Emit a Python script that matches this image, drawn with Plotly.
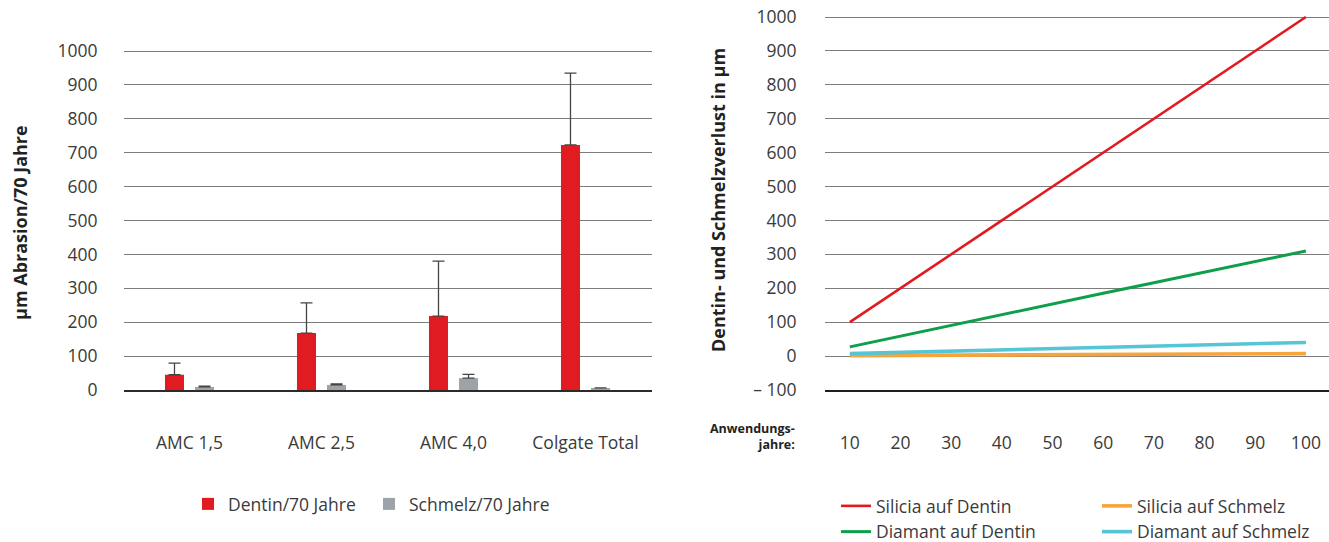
import plotly.graph_objects as go

# --- Left panel: abrasion per 70 years (bar chart) ---
products = ["AMC 1,5", "AMC 2,5", "AMC 4,0", "Colgate Total"]
dentin_70 = [45, 168, 218, 723]
dentin_err = [34, 89, 162, 212]
schmelz_70 = [9, 15, 35, 6]
schmelz_err = [2, 3, 11, None]

# --- Right panel: loss over years of use (line chart) ---
years = [10, 20, 30, 40, 50, 60, 70, 80, 90, 100]
silicia_dentin = [100, 200, 300, 400, 500, 600, 700, 800, 900, 1000]
diamant_dentin = [27, 59, 90, 122, 153, 185, 216, 248, 279, 310]
silicia_schmelz = [1, 1.7, 2.3, 3, 3.7, 4.3, 5, 5.7, 6.3, 7]
diamant_schmelz = [7, 10.7, 14.3, 18, 21.6, 25.3, 29, 32.6, 36.3, 40]

left_ticks = [0, 100, 200, 300, 400, 500, 600, 700, 800, 900, 1000]
right_ticks = [-100, 0, 100, 200, 300, 400, 500, 600, 700, 800, 900, 1000]
right_ticktext = ["\u2013 100"] + [str(v) for v in right_ticks[1:]]

W, H = 1329, 542
FONT = "Open Sans"
TXT = "#3a3a3a"
GRID = "#7d7d7d"
RED = "#e01b22"
GREY = "#9ea3a9"
FS = 17.5

fig = go.Figure()

fig.add_trace(go.Bar(
    x=products, y=dentin_70, name="Dentin/70 Jahre",
    marker=dict(color=RED, line=dict(width=0)),
    error_y=dict(type="data", array=dentin_err, arrayminus=[0] * 4,
                 symmetric=False, color="#444444", thickness=1.3, width=6),
    xaxis="x", yaxis="y", legend="legend",
))
fig.add_trace(go.Bar(
    x=products, y=schmelz_70, name="Schmelz/70 Jahre",
    marker=dict(color=GREY, line=dict(width=0)),
    error_y=dict(type="data", array=schmelz_err, arrayminus=[0] * 4,
                 symmetric=False, color="#444444", thickness=1.3, width=6),
    xaxis="x", yaxis="y", legend="legend",
))

line_series = [
    ("Silicia auf Dentin", silicia_dentin, "#e2191f", 2.6, "legend2"),
    ("Diamant auf Dentin", diamant_dentin, "#0e9f4a", 3.0, "legend2"),
    ("Silicia auf Schmelz", silicia_schmelz, "#f7a43b", 3.6, "legend3"),
    ("Diamant auf Schmelz", diamant_schmelz, "#56c5d5", 3.6, "legend3"),
]
for name, vals, color, width, leg in line_series:
    fig.add_trace(go.Scatter(
        x=years, y=vals, name=name, mode="lines",
        line=dict(color=color, width=width),
        xaxis="x2", yaxis="y2", legend=leg,
    ))

tickfont = dict(family=FONT, size=FS, color=TXT)
legfont = dict(family=FONT, size=FS, color=TXT)
titlefont = dict(family=FONT, size=18, color="#222222")

fig.update_layout(
    width=W, height=H,
    margin=dict(l=0, r=0, t=0, b=0, autoexpand=False),
    paper_bgcolor="white", plot_bgcolor="white",
    font=dict(family=FONT, color=TXT),
    barmode="group", bargap=0.545, bargroupgap=0.367,
    showlegend=True,
    xaxis=dict(
        domain=[123.5 / W, 651.5 / W], type="category",
        showgrid=False, showline=True, linecolor="#2b2b2b", linewidth=1.6,
        ticks="", tickfont=tickfont, ticklabelstandoff=36,
    ),
    yaxis=dict(
        domain=[1 - 390 / H, 1 - 50 / H], range=[0, 1003],
        tickvals=left_ticks, showgrid=True, gridcolor=GRID, gridwidth=1.3,
        zeroline=False, showline=False, ticks="", tickfont=tickfont,
        ticklabelstandoff=25,
    ),
    xaxis2=dict(
        domain=[824.5 / W, 1.0], range=[5.0, 104.56],
        tickvals=years, showgrid=False, showline=True,
        linecolor="#1e1e1e", linewidth=1.6, ticks="", tickfont=tickfont,
        ticklabelstandoff=36, anchor="y2",
    ),
    yaxis2=dict(
        domain=[1 - 389.9 / H, 1 - 16 / H], range=[-100, 1003],
        tickvals=right_ticks, ticktext=right_ticktext,
        showgrid=True, gridcolor=GRID, gridwidth=1.3, zeroline=False,
        showline=False, ticks="", tickfont=tickfont, ticklabelstandoff=27,
        anchor="x2",
    ),
    legend=dict(
        orientation="h", x=188 / W, xanchor="left", y=1 - 504 / H,
        yanchor="middle", entrywidth=136, entrywidthmode="pixels",
        font=legfont, bgcolor="rgba(0,0,0,0)", borderwidth=0,
    ),
    legend2=dict(
        orientation="v", x=836 / W, xanchor="left", y=1 - 519 / H,
        yanchor="middle", font=legfont,
        bgcolor="rgba(0,0,0,0)", borderwidth=0, tracegroupgap=0,
    ),
    legend3=dict(
        orientation="v", x=1097 / W, xanchor="left", y=1 - 519 / H,
        yanchor="middle", font=legfont,
        bgcolor="rgba(0,0,0,0)", borderwidth=0, tracegroupgap=0,
    ),
    annotations=[
        dict(text="<b>µm Abrasion/70 Jahre</b>", textangle=-90,
             x=20 / W, y=1 - 223 / H, xref="paper", yref="paper",
             xanchor="center", yanchor="middle", showarrow=False,
             font=titlefont),
        dict(text="<b>Dentin- und Schmelzverlust in µm</b>", textangle=-90,
             x=718 / W, y=1 - 200 / H, xref="paper", yref="paper",
             xanchor="center", yanchor="middle", showarrow=False,
             font=titlefont),
        dict(text="<b>Anwendungs-<br>jahre:</b>", align="right",
             x=797 / W, y=1 - 436 / H, xref="paper", yref="paper",
             xanchor="right", yanchor="middle", showarrow=False,
             font=dict(family=FONT, size=12.5, color="#222222")),
    ],
)

fig.write_html("out.html")
